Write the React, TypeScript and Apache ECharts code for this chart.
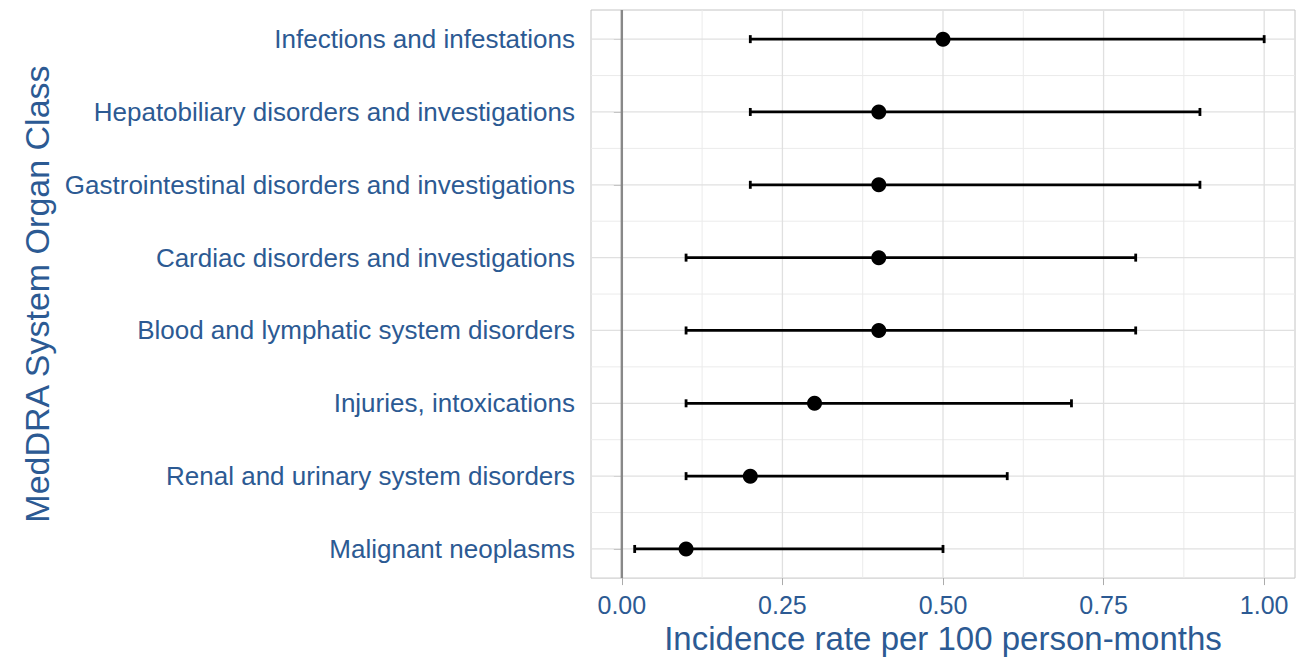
import React, { useEffect, useRef } from "react";
import * as echarts from "echarts";

const categories = [
  "Malignant neoplasms",
  "Renal and urinary system disorders",
  "Injuries, intoxications",
  "Blood and lymphatic system disorders",
  "Cardiac disorders and investigations",
  "Gastrointestinal disorders and investigations",
  "Hepatobiliary disorders and investigations",
  "Infections and infestations",
];
const estimates = [0.1, 0.2, 0.3, 0.4, 0.4, 0.4, 0.4, 0.5];
const lowerCI = [0.02, 0.1, 0.1, 0.1, 0.1, 0.2, 0.2, 0.2];
const upperCI = [0.5, 0.6, 0.7, 0.8, 0.8, 0.9, 0.9, 1.0];
const xTicks = [0, 0.25, 0.5, 0.75, 1.0];
const xMinorTicks = [0.125, 0.375, 0.625, 0.875];
const yTicks = [1, 2, 3, 4, 5, 6, 7, 8];
const yMinorTicks = [1.5, 2.5, 3.5, 4.5, 5.5, 6.5, 7.5];
const refLine = [0];

const TEXT = "#2C5A93";
const FONT = "'Liberation Sans', Arial, Helvetica, sans-serif";

export default function App() {
  const ref = useRef<HTMLDivElement>(null);
  useEffect(() => {
    if (!ref.current) return;
    const chart = echarts.init(ref.current, undefined, { renderer: "svg" });

    const vLine = (color: string, width: number) => (params: any, api: any) => {
      const cs = params.coordSys;
      const x = api.coord([api.value(0), 1])[0];
      return {
        type: "line",
        shape: { x1: x, y1: cs.y, x2: x, y2: cs.y + cs.height },
        style: { stroke: color, lineWidth: width },
      };
    };
    const hLine = (color: string, width: number) => (params: any, api: any) => {
      const cs = params.coordSys;
      const y = api.coord([0, api.value(1)])[1];
      return {
        type: "line",
        shape: { x1: cs.x, y1: y, x2: cs.x + cs.width, y2: y },
        style: { stroke: color, lineWidth: width },
      };
    };

    chart.setOption({
      animation: false,
      grid: {
        left: 591,
        top: 10,
        width: 704,
        height: 570,
        show: true,
        borderColor: "#C4C4C4",
        borderWidth: 1,
        backgroundColor: "#fff",
      },
      xAxis: {
        type: "value",
        min: -0.048,
        max: 1.048,
        name: "Incidence rate per 100 person-months",
        nameLocation: "middle",
        nameGap: 41,
        nameTextStyle: { color: TEXT, fontSize: 33, fontFamily: FONT },
        axisLine: { show: false },
        splitLine: { show: false },
        axisTick: {
          show: true,
          length: 7,
          customValues: xTicks,
          lineStyle: { color: "#ABABAB", width: 1 },
        },
        axisLabel: {
          customValues: xTicks,
          formatter: (v: number) => v.toFixed(2),
          color: TEXT,
          fontSize: 25,
          fontFamily: FONT,
          margin: 14,
        },
      },
      yAxis: {
        type: "value",
        min: 0.6,
        max: 8.4,
        name: "MedDRA System Organ Class",
        nameLocation: "middle",
        nameRotate: 90,
        nameGap: 537,
        nameTextStyle: { color: TEXT, fontSize: 34, fontFamily: FONT },
        axisLine: { show: false },
        splitLine: { show: false },
        axisTick: {
          show: true,
          length: 8,
          customValues: yTicks,
          lineStyle: { color: "#ABABAB", width: 1 },
        },
        axisLabel: {
          customValues: yTicks,
          formatter: (v: number) => categories[Math.round(v) - 1] ?? "",
          color: TEXT,
          fontSize: 26,
          fontFamily: FONT,
          margin: 16,
          padding: [4, 0, 0, 0],
        },
      },
      series: [
        {
          type: "custom",
          z: 1,
          silent: true,
          renderItem: vLine("#EBEBEB", 1),
          encode: { x: 0, y: 1 },
          data: xMinorTicks.map((v) => [v, 1]),
        },
        {
          type: "custom",
          z: 1,
          silent: true,
          renderItem: hLine("#EBEBEB", 1),
          encode: { x: 0, y: 1 },
          data: yMinorTicks.map((v) => [0.5, v]),
        },
        {
          type: "custom",
          z: 2,
          silent: true,
          renderItem: vLine("#E0E0E0", 1.3),
          encode: { x: 0, y: 1 },
          data: xTicks.map((v) => [v, 1]),
        },
        {
          type: "custom",
          z: 2,
          silent: true,
          renderItem: hLine("#E0E0E0", 1.3),
          encode: { x: 0, y: 1 },
          data: yTicks.map((v) => [0.5, v]),
        },
        {
          type: "custom",
          z: 3,
          silent: true,
          renderItem: vLine("#888888", 2.4),
          encode: { x: 0, y: 1 },
          data: refLine.map((v) => [v, 1]),
        },
        {
          type: "custom",
          z: 4,
          silent: true,
          renderItem: (params: any, api: any) => {
            const yv = api.value(2);
            const p1 = api.coord([api.value(0), yv]);
            const p2 = api.coord([api.value(1), yv]);
            const h = 4;
            const st = { stroke: "#000", lineWidth: 2.8 };
            return {
              type: "group",
              children: [
                { type: "line", shape: { x1: p1[0], y1: p1[1], x2: p2[0], y2: p2[1] }, style: st },
                { type: "line", shape: { x1: p1[0], y1: p1[1] - h, x2: p1[0], y2: p1[1] + h }, style: st },
                { type: "line", shape: { x1: p2[0], y1: p2[1] - h, x2: p2[0], y2: p2[1] + h }, style: st },
              ],
            };
          },
          encode: { x: [0, 1], y: 2 },
          data: categories.map((_, i) => [lowerCI[i], upperCI[i], i + 1]),
        },
        {
          type: "scatter",
          z: 5,
          symbol: "circle",
          symbolSize: 15,
          itemStyle: { color: "#000", opacity: 1 },
          data: estimates.map((v, i) => [v, i + 1]),
        },
      ],
    });
    return () => chart.dispose();
  }, []);
  return (
    <div
      ref={ref}
      style={{ position: "absolute", left: 0, top: 0, width: 1296, height: 660, background: "#fff" }}
    />
  );
}
